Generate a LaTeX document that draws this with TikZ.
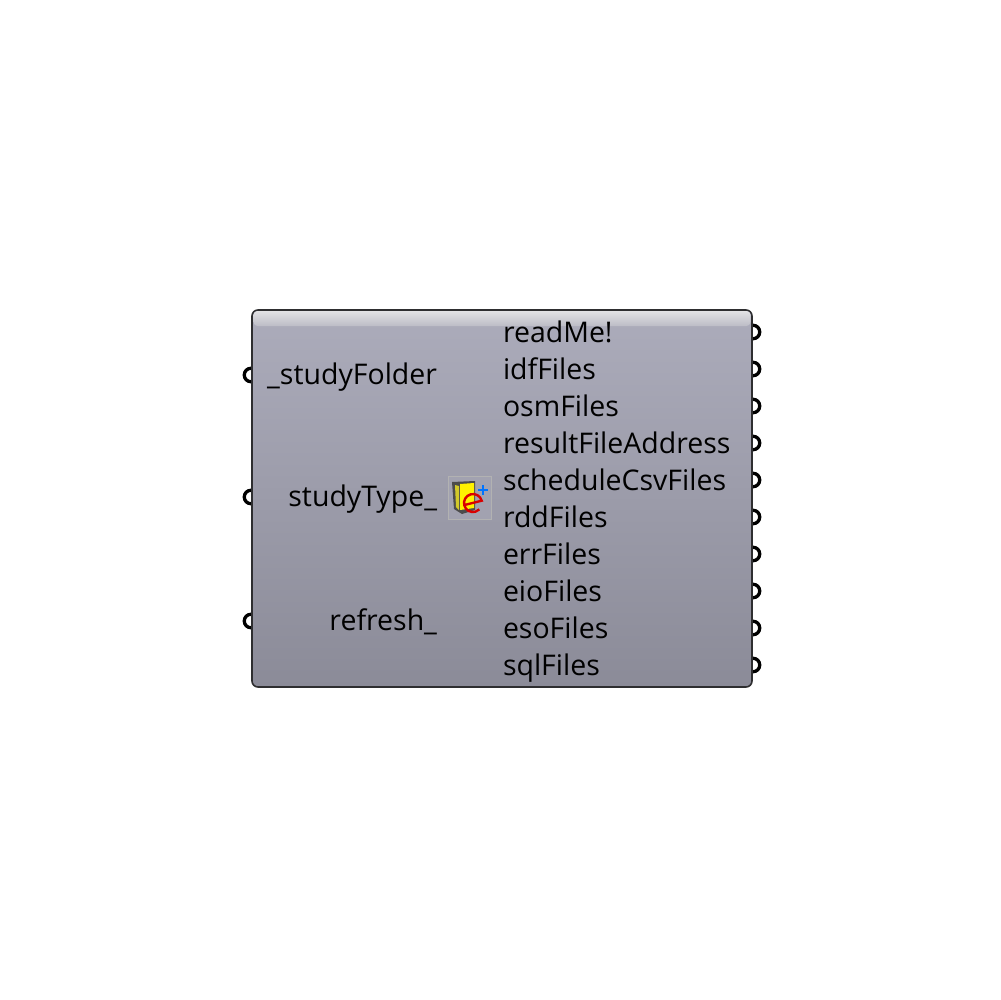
\documentclass[tikz,border=0pt]{standalone}
\usepackage{fontspec}
\setmainfont{Open Sans}
\usetikzlibrary{positioning}
\definecolor{bodytop}{HTML}{ACACBB}
\definecolor{bodybot}{HTML}{8B8B98}
\definecolor{striptop}{HTML}{E2E2E4}
\definecolor{stripbot}{HTML}{BCBCC6}
\definecolor{edgegray}{HTML}{2E2E30}
\begin{document}
\begin{tikzpicture}[
    x=0.1mm, y=-0.1mm,
    node distance=1mm,
    port/.style={draw=black,line width=0.33mm,circle,fill=white,inner sep=0pt,outer sep=0pt,minimum size=1.35mm},
    portlabel/.style={inner sep=0pt,outer sep=0pt,text height=2mm,text depth=0.7mm,font=\fontsize{8.1pt}{9pt}\selectfont,text=black},
    inlabel/.style={portlabel,anchor=east},
    outlabel/.style={portlabel,below=of #1.south west,anchor=north west}
  ]
    \useasboundingbox (0,0) rectangle (1000,1000);
    \fill[white] (0,0) rectangle (1000,1000);
    % ports sit behind the body
    \node[port] (instudy) at (251,375) {};
    \node[port] (intype) at (251,497) {};
    \node[port] (inrefresh) at (251,621) {};
    \node[port] (outreadme) at (753,332) {};
    \node[port] (outidf) at (753,369) {};
    \node[port] (outosm) at (753,406) {};
    \node[port] (outresult) at (753,443) {};
    \node[port] (outsched) at (753,480) {};
    \node[port] (outrdd) at (753,517) {};
    \node[port] (outerr) at (753,554) {};
    \node[port] (outeio) at (753,591) {};
    \node[port] (outeso) at (753,628) {};
    \node[port] (outsql) at (753,665) {};
    % body
    \node[draw=edgegray,line width=0.16mm,rounded corners=0.6mm,top color=bodytop,bottom color=bodybot,
      minimum width=50mm,minimum height=37.7mm,inner sep=0pt] (body) at (502,498.5) {};
    \shade[top color=striptop,bottom color=stripbot,rounded corners=0.4mm]
      (253.5,326) |- (750.5,311) -- (750.5,326) -- cycle;
    % inputs
    \node[inlabel] (study) at (437,377.5) {\_studyFolder};
    \node[inlabel] (type) at (437,499.5) {studyType\_};
    \node[inlabel] (refresh) at (437,623.5) {refresh\_};
    % outputs
    \node[portlabel,anchor=north west] (readme) at (503,322) {readMe!};
    \node[outlabel=readme] (idf) {idfFiles};
    \node[outlabel=idf] (osm) {osmFiles};
    \node[outlabel=osm] (result) {resultFileAddress};
    \node[outlabel=result] (sched) {scheduleCsvFiles};
    \node[outlabel=sched] (rdd) {rddFiles};
    \node[outlabel=rdd] (err) {errFiles};
    \node[outlabel=err] (eio) {eioFiles};
    \node[outlabel=eio] (eso) {esoFiles};
    \node[outlabel=eso] (sql) {sqlFiles};
    % icon
    \node[draw=black!30,fill=black!6!bodytop,line width=0.08mm,minimum size=4.3mm,inner sep=0pt] (icon) at (469.5,497.5) {};
    \fill[black!70] (452,482) -- (475,481) -- (475,510) -- (462,514) -- (454,509) -- cycle;
    \fill[yellow] (460,484) -- (474,483) -- (474,508) -- (460,510) -- cycle;
    \fill[yellow!80!black] (455,485) -- (459,486) -- (459,510) -- (456,507) -- cycle;
    \draw[red!85!black,line width=0.24mm] (464.5,505) -- (481.7,500.7) arc[start angle=-15,end angle=-315,radius=9];
    \draw[blue!55!cyan,line width=0.2mm] (483,485) -- (483,495) (478,490) -- (488,490);
  \end{tikzpicture}
\end{document}
